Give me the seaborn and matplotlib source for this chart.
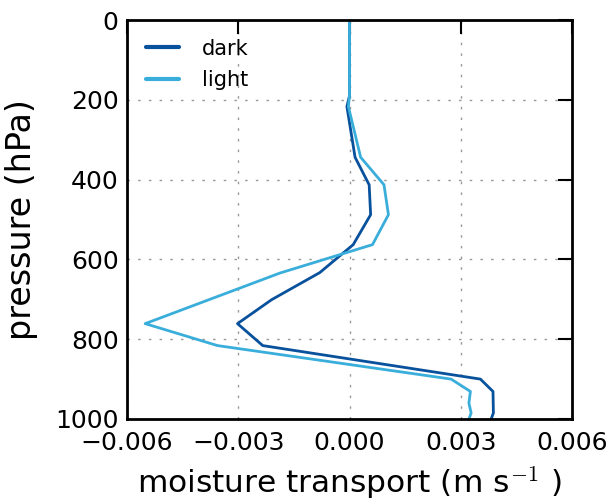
import matplotlib
matplotlib.use("Agg")
import matplotlib.pyplot as plt
import seaborn as sns
import pandas as pd

pressure_dark = [0, 190, 217, 344, 413, 488, 563, 633, 701, 761, 816, 900, 931, 985, 1000]
transport_dark = [0.0, 0.0, -0.00007, 0.00015, 0.00053, 0.00057, 0.0001, -0.0008, -0.0021,
                  -0.00302, -0.00234, 0.00353, 0.00387, 0.00388, 0.00382]
pressure_light = [0, 190, 217, 344, 413, 488, 563, 634, 761, 816, 900, 931, 960, 985, 1000]
transport_light = [0.0, 0.0, -0.00003, 0.0003, 0.00093, 0.00105, 0.00062, -0.00187,
                   -0.00551, -0.00356, 0.00274, 0.00326, 0.00322, 0.00328, 0.00322]
series_names = ["dark", "light"]
colors = ["#08519c", "#3aaedb"]
xticks = [-0.006, -0.003, 0.0, 0.003, 0.006]
yticks = [0, 200, 400, 600, 800, 1000]

df = pd.concat([
    pd.DataFrame({"p": pressure_dark, "mt": transport_dark, "case": series_names[0]}),
    pd.DataFrame({"p": pressure_light, "mt": transport_light, "case": series_names[1]}),
])

sns.set_style("white")
plt.rcParams["font.family"] = ["DejaVu Sans"]
plt.rcParams["mathtext.fontset"] = "cm"
plt.rcParams["text.color"] = "black"
plt.rcParams["axes.labelcolor"] = "black"
fig = plt.figure(figsize=(6.14, 5.04), dpi=100)
ax = fig.add_axes([127 / 614, 1 - 419 / 504, 445 / 614, 399 / 504])

sns.lineplot(data=df, x="mt", y="p", hue="case", palette=colors, sort=False,
             estimator=None, orient="y", linewidth=2, ax=ax)

ax.set_xlim(-0.006, 0.006)
ax.set_ylim(1000, 0)
ax.set_xticks(xticks)
ax.set_xticklabels([f"{v:.3f}".replace("-", "\u2212") for v in xticks])
ax.set_yticks(yticks)
ax.tick_params(direction="in", length=10, width=1.5, top=True, right=True,
               labelsize=18, colors="black")
ax.tick_params(axis="x", pad=9)
ax.tick_params(axis="y", pad=6)
ax.grid(True, linestyle=(0, (1.8, 5.9)), color="#999999", linewidth=1.0)
for s in ax.spines.values():
    s.set_linewidth(2)
    s.set_color("black")
ax.set_xlabel(r"moisture transport (m s$^{-1}$ )", fontsize=22.5, labelpad=7)
ax.set_ylabel("pressure (hPa)", fontsize=24, labelpad=12)
leg = ax.legend(loc="upper left", frameon=False, fontsize=15, handlelength=1.6,
                handletextpad=1.1, borderaxespad=0.5, labelspacing=0.55)
for h in leg.get_lines():
    h.set_linewidth(3)

fig.savefig("out.png", dpi=100)
